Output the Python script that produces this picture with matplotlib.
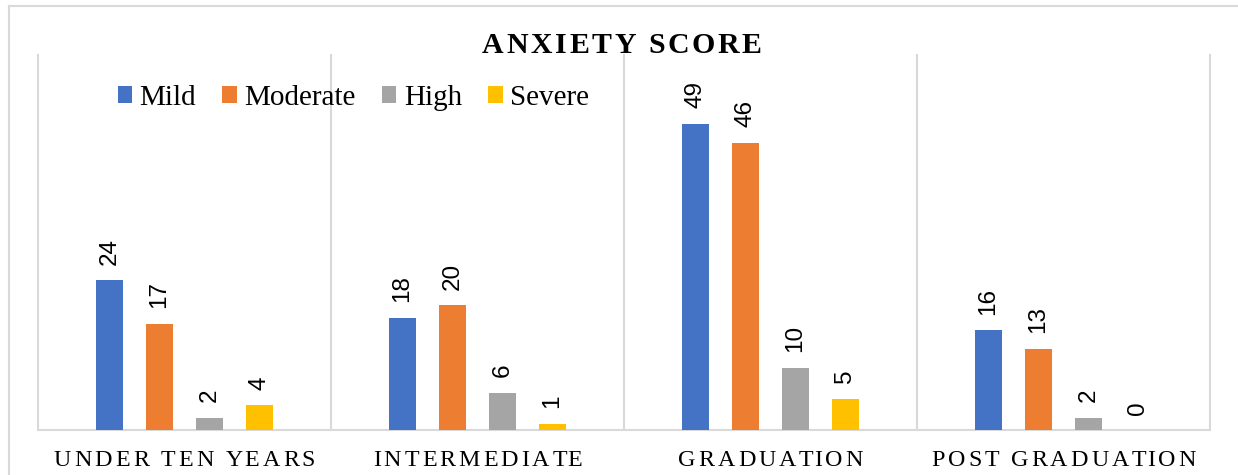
import numpy as np
import matplotlib.pyplot as plt
from matplotlib.lines import Line2D
from matplotlib.font_manager import FontProperties
from matplotlib.transforms import IdentityTransform

plt.rcParams['font.family'] = ['Liberation Serif', 'DejaVu Serif']

categories = ["UNDER TEN YEARS", "INTERMEDIATE", "GRADUATION", "POST GRADUATION"]
series_names = ["Mild", "Moderate", "High", "Severe"]
mild = [24, 18, 49, 16]
moderate = [17, 20, 46, 13]
high = [2, 6, 10, 2]
severe = [4, 1, 5, 0]
colors = ["#4472C4", "#ED7D31", "#A5A5A5", "#FFC000"]
grid_col = "#D9D9D9"

W, H = 1238, 475
fig = plt.figure(figsize=(W / 100, H / 100), dpi=100)
renderer = fig.canvas.get_renderer()


def tracked_text(xc, y, s, tracking, **kw):
    """Draw s centred at display x=xc, baseline y, with extra letter spacing (px)."""
    prop = FontProperties(family="Liberation Serif", size=kw.get("fontsize"),
                          weight=kw.get("fontweight", "normal"))
    widths = [renderer.get_text_width_height_descent(s[:i], prop, ismath=False)[0]
              if i else 0.0 for i in range(len(s) + 1)]
    total = widths[-1] + tracking * (len(s) - 1)
    x0 = xc - total / 2
    for i, ch in enumerate(s):
        if ch == " ":
            continue
        fig.text(x0 + widths[i] + tracking * i, y, ch, transform=IdentityTransform(),
                 ha="left", va="baseline", **kw)


ax = fig.add_axes([38 / W, 1 - 430 / H, (1210 - 38) / W, (430 - 55) / H])

x = np.arange(len(categories))
width = 0.089
step = 0.1706
offsets = np.array([-1.5, -0.5, 0.5, 1.5]) * step

for i, (name, vals) in enumerate(zip(series_names, [mild, moderate, high, severe])):
    bars = ax.bar(x + offsets[i], vals, width, color=colors[i], label=name, zorder=3)
    for b, v in zip(bars, vals):
        ax.annotate(str(v), (b.get_x() + b.get_width() / 2, b.get_height()),
                    xytext=(0, 11), textcoords="offset points",
                    rotation=90, ha="center", va="bottom", fontsize=17.5,
                    family=["Liberation Sans", "DejaVu Sans"])

ax.set_xlim(-0.5, len(categories) - 0.5)
ax.set_ylim(0, 60)

for gx in np.arange(-0.5, len(categories), 1.0):
    ax.axvline(gx, color=grid_col, lw=1.5, zorder=1, clip_on=False)

for s in ["left", "right", "top"]:
    ax.spines[s].set_visible(False)
ax.spines["bottom"].set_color(grid_col)
ax.spines["bottom"].set_linewidth(1.5)
ax.set_yticks([])
ax.set_xticks([])

# category labels with Excel-like letter spacing
for xi, cat in zip(x, categories):
    xc = ax.transData.transform((xi, 0))[0]
    tracked_text(xc, H - 466, cat, 3.0, fontsize=17.3)

ax.legend(loc="center", bbox_to_anchor=(0.269, 0.885), ncol=4, frameon=False,
          fontsize=21, handlelength=0.5, handleheight=0.5, handletextpad=0.25,
          columnspacing=0.9, borderaxespad=0)

tracked_text(622, H - 53, "ANXIETY SCORE", 2.7, fontsize=21.5, fontweight="bold")

# outer chart border
fig.add_artist(Line2D([9 / W, 1.0], [1 - 6 / H, 1 - 6 / H], color=grid_col, lw=1.5))
fig.add_artist(Line2D([9 / W, 9 / W], [0.0, 1 - 6 / H], color=grid_col, lw=1.5))

fig.savefig("out.png", dpi=100)
